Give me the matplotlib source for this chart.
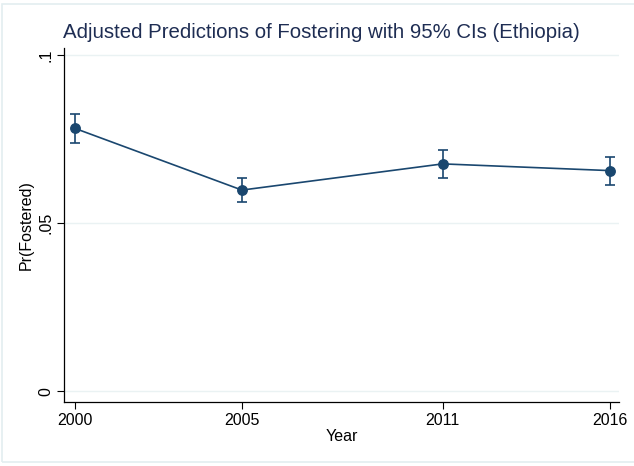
import matplotlib
matplotlib.use("Agg")
import matplotlib.pyplot as plt
from matplotlib.patches import Rectangle

plt.rcParams['font.family'] = ['Liberation Sans', 'DejaVu Sans']

# predicted probability of fostering by survey year, with 95% CI
years = [2000, 2005, 2011, 2016]
margin = [0.0783, 0.0599, 0.0677, 0.0657]
ci_low = [0.0740, 0.0563, 0.0635, 0.0614]
ci_high = [0.0825, 0.0636, 0.0718, 0.0698]

navy = '#1a476f'
err_lo = [m - l for m, l in zip(margin, ci_low)]
err_hi = [h - m for m, h in zip(margin, ci_high)]

fig = plt.figure(figsize=(6.34, 4.66), dpi=100)
fig.patches.append(Rectangle((2 / 634, 4 / 466), 640 / 634, 458 / 466,
                             transform=fig.transFigure, fill=False,
                             edgecolor='#e3eef0', linewidth=1.2))
ax = fig.add_axes([64.3 / 634, 1 - 401.7 / 466, 555 / 634, 353.7 / 466])

ax.errorbar(years, margin, yerr=[err_lo, err_hi], color=navy, linewidth=1.2,
            marker='o', markersize=6.8, capsize=3.8, elinewidth=1.2,
            capthick=1.2, zorder=3)

ax.set_xlim(1999.69, 2016.28)
ax.set_ylim(-0.0031, 0.1022)
ax.set_xticks(years)
ax.set_xticklabels([str(y) for y in years])
ax.set_yticks([0, 0.05, 0.1])
ax.set_yticklabels(['0', '.05', '.1'], rotation=90, va='center')
ax.tick_params(labelsize=11.5, length=5, width=0.8, colors='black', pad=3)
ax.grid(axis='y', color='#eaf2f3', linewidth=1.0)
ax.set_axisbelow(True)
for s in ['top', 'right']:
    ax.spines[s].set_visible(False)
for s in ['left', 'bottom']:
    ax.spines[s].set_linewidth(0.9)

ax.set_xlabel('Year', fontsize=11.5, labelpad=1)
ax.set_ylabel('Pr(Fostered)', fontsize=11.5, labelpad=3)
fig.text(63 / 634, 1 - 32 / 466,
         'Adjusted Predictions of Fostering with 95% CIs (Ethiopia)',
         fontsize=14.7, color='#1e2d53', va='center', ha='left')

fig.savefig('out.png', dpi=100)
